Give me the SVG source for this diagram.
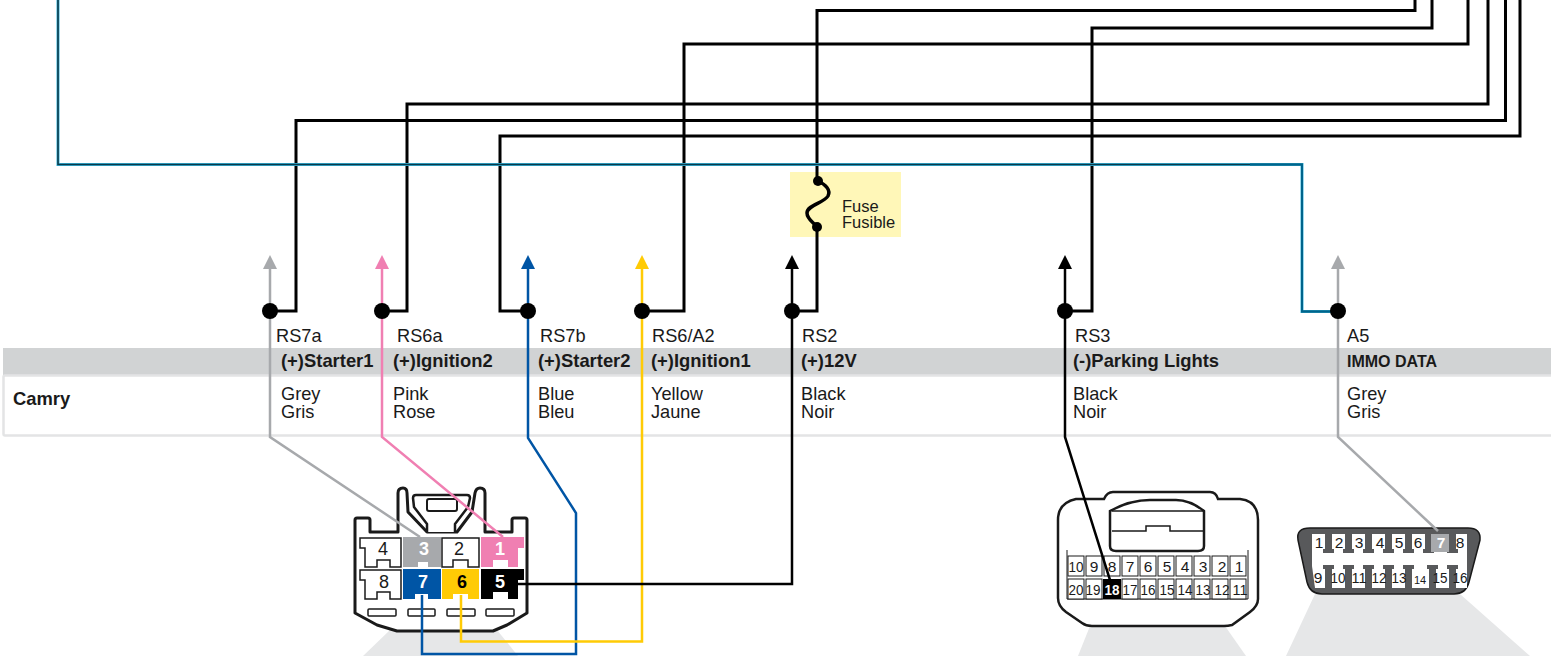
<svg xmlns="http://www.w3.org/2000/svg" width="1551" height="656" viewBox="0 0 1551 656">
<style>
text{font-family:"Liberation Sans",Arial,sans-serif;fill:#1a1a1a}
.l{font-size:18.200px}
.b{font-size:18.400px;font-weight:700}
.f{font-size:16.500px}
.p{font-size:15.500px;text-anchor:middle}
.n{font-size:18px;text-anchor:middle}
.w{fill:#fff;font-weight:700}
.k{fill:none;stroke:#000;stroke-width:3;stroke-linejoin:miter}
.pin{fill:#fff;stroke:#1a1a1a;stroke-width:1.500}
.cell{fill:#fff;stroke:#1a1a1a;stroke-width:1}
.t{fill:#58595b}
</style>
<g id="shades">
<path d="M363 656L390 630H497L518 656Z" fill="#e6e7e8"/>
<path d="M1078 656L1090 626H1225L1246 656Z" fill="#e6e7e8"/>
<path d="M1286 656L1315 594H1460L1530 656Z" fill="#e6e7e8"/>
</g>
<g id="table">
<rect x="3" y="348" width="1548" height="27" fill="#d1d3d4"/>
<path d="M1551 375.500H5Q3.500 375.500 3.500 377V434Q3.500 435.500 5 435.500H1551" fill="#fff" stroke="#e3e4e5" stroke-width="2.500"/>
<text x="13" y="405" class="b">Camry</text>
</g>
<g id="fuse">
<rect x="790" y="172" width="111" height="65" fill="#fff7b8"/>
<path d="M818 181C826 185 831 190 828 196C824 203 807 205 807 213C807 219 813 222 817 227" fill="none" stroke="#000" stroke-width="3.500"/>
<circle cx="818" cy="181" r="5" fill="#000"/>
<circle cx="817" cy="227" r="5" fill="#000"/>
<text x="842" y="212" class="f">Fuse</text>
<text x="842" y="228" class="f">Fusible</text>
</g>
<g id="col-rs7a"><text x="276" y="342" class="l">RS7a</text><text x="281" y="367" class="b">(+)Starter1</text><text x="281" y="400" class="l">Grey</text><text x="281" y="418" class="l">Gris</text></g>
<g id="col-rs6a"><text x="397" y="342" class="l">RS6a</text><text x="393" y="367" class="b">(+)Ignition2</text><text x="393" y="400" class="l">Pink</text><text x="393" y="418" class="l">Rose</text></g>
<g id="col-rs7b"><text x="540" y="342" class="l">RS7b</text><text x="538" y="367" class="b">(+)Starter2</text><text x="538" y="400" class="l">Blue</text><text x="538" y="418" class="l">Bleu</text></g>
<g id="col-rs6a2"><text x="652" y="342" class="l">RS6/A2</text><text x="651" y="367" class="b">(+)Ignition1</text><text x="651" y="400" class="l">Yellow</text><text x="651" y="418" class="l">Jaune</text></g>
<g id="col-rs2"><text x="802" y="342" class="l">RS2</text><text x="801" y="367" class="b">(+)12V</text><text x="801" y="400" class="l">Black</text><text x="801" y="418" class="l">Noir</text></g>
<g id="col-rs3"><text x="1075" y="342" class="l">RS3</text><text x="1073" y="367" class="b">(-)Parking Lights</text><text x="1073" y="400" class="l">Black</text><text x="1073" y="418" class="l">Noir</text></g>
<g id="col-a5"><text x="1347" y="342" class="l">A5</text><text x="1347" y="367" class="b" style="font-size:16px">IMMO DATA</text><text x="1347" y="400" class="l">Grey</text><text x="1347" y="418" class="l">Gris</text></g>
<g id="connector-8pin">
<path d="M355 520Q355 518 357 518H368Q370 518 370 520V532H398V493Q398 488 403 488Q407 488 407 493L408 512L427 532H457L472 512L475 493Q476 488 480 488Q485 488 485 493V532H512V520Q512 518 514 518H525Q527 518 527 520V613L507 625L493 631H397L377 625L355 613Z" fill="#fff" stroke="#1a1a1a" stroke-width="3" stroke-linejoin="round"/>
<path d="M427 532V524L414 507L413 498Q413 495 416 495H467Q470 495 470 498L468 507L455 524V532" fill="#fff" stroke="#1a1a1a" stroke-width="2.500" stroke-linejoin="round"/>
<rect x="427" y="499" width="30" height="12" rx="2" fill="#fff" stroke="#1a1a1a" stroke-width="2"/>
<path d="M360 538H401V567H390V560H377V567H365V548H360Z" class="pin"/>
<path d="M403 537H441V567H428V562H418V567H403Z" fill="#a7a9ac"/>
<path d="M442 538H479V567H468V560H453V567H442Z" class="pin"/>
<path d="M481 537H524V548H518V567H508V560H493V567H481Z" fill="#f07fb2"/>
<path d="M360 570H401V599H390V592H377V599H365V580H360Z" class="pin"/>
<path d="M403 569H441V599H428V594H415V599H403Z" fill="#0055a5"/>
<path d="M442 569H479V599H468V594H453V599H442Z" fill="#ffcb05"/>
<path d="M481 569H524V580H518V599H508V592H493V599H481Z" fill="#000"/>
<rect x="368" y="609" width="28" height="7" rx="1" class="pin"/>
<rect x="408" y="609" width="27" height="7" rx="1" class="pin"/>
<rect x="447" y="609" width="28" height="7" rx="1" class="pin"/>
<rect x="486" y="609" width="28" height="7" rx="1" class="pin"/>
<text x="383" y="555" class="n">4</text>
<text x="424" y="555" class="n w">3</text>
<text x="459" y="555" class="n">2</text>
<text x="500" y="555" class="n w">1</text>
<text x="384" y="588" class="n">8</text>
<text x="423" y="588" class="n w">7</text>
<text x="462" y="588" class="n" style="font-weight:700;fill:#000">6</text>
<text x="500" y="588" class="n w">5</text>
</g>
<g id="connector-20pin">
<path d="M1104 499Q1107 492 1113 492H1210Q1216 492 1218 499H1240Q1258 501 1258 520V599Q1258 606 1250 612L1232 625Q1228 626 1224 626H1092Q1086 626 1082 623L1066 612Q1058 606 1058 598V520Q1058 503 1076 499Z" fill="#fff" stroke="#1a1a1a" stroke-width="2.500"/>
<path d="M1110 511Q1130 500 1150 500H1176Q1190 500 1204 511V546Q1204 551 1198 551H1116Q1110 551 1110 546Z" fill="#fff" stroke="#1a1a1a" stroke-width="2.500"/>
<path d="M1112 511H1203M1112 531H1146V526H1170V531H1203" fill="none" stroke="#1a1a1a" stroke-width="1.500"/>
<path d="M1067 550V599H1248V550" fill="none" stroke="#1a1a1a" stroke-width="1"/>
<rect x="1068" y="556" width="16" height="20" class="cell"/><rect x="1086" y="556" width="16" height="20" class="cell"/><rect x="1104" y="556" width="16" height="20" class="cell"/><rect x="1122" y="556" width="16" height="20" class="cell"/><rect x="1140" y="556" width="16" height="20" class="cell"/><rect x="1158" y="556" width="16" height="20" class="cell"/><rect x="1176" y="556" width="16" height="20" class="cell"/><rect x="1194" y="556" width="16" height="20" class="cell"/><rect x="1212" y="556" width="16" height="20" class="cell"/><rect x="1230" y="556" width="16" height="20" class="cell"/>
<rect x="1068" y="579" width="16" height="20" class="cell"/><rect x="1086" y="579" width="16" height="20" class="cell"/><rect x="1122" y="579" width="16" height="20" class="cell"/><rect x="1140" y="579" width="16" height="20" class="cell"/><rect x="1158" y="579" width="16" height="20" class="cell"/><rect x="1176" y="579" width="16" height="20" class="cell"/><rect x="1194" y="579" width="16" height="20" class="cell"/><rect x="1212" y="579" width="16" height="20" class="cell"/><rect x="1230" y="579" width="16" height="20" class="cell"/>
<rect x="1103" y="579" width="18" height="20" fill="#000"/>
<text x="1076" y="572" class="p" textLength="15" lengthAdjust="spacingAndGlyphs">10</text><text x="1094" y="572" class="p">9</text><text x="1112" y="572" class="p">8</text><text x="1130" y="572" class="p">7</text><text x="1148" y="572" class="p">6</text><text x="1167" y="572" class="p">5</text><text x="1185" y="572" class="p">4</text><text x="1203" y="572" class="p">3</text><text x="1222" y="572" class="p">2</text><text x="1239" y="572" class="p">1</text>
<text x="1076" y="595" class="p" textLength="15" lengthAdjust="spacingAndGlyphs">20</text><text x="1093" y="595" class="p" textLength="15" lengthAdjust="spacingAndGlyphs">19</text><text x="1112" y="595" class="p w" textLength="15" lengthAdjust="spacingAndGlyphs">18</text><text x="1130" y="595" class="p" textLength="15" lengthAdjust="spacingAndGlyphs">17</text><text x="1148" y="595" class="p" textLength="15" lengthAdjust="spacingAndGlyphs">16</text><text x="1167" y="595" class="p" textLength="15" lengthAdjust="spacingAndGlyphs">15</text><text x="1185" y="595" class="p" textLength="15" lengthAdjust="spacingAndGlyphs">14</text><text x="1203" y="595" class="p" textLength="15" lengthAdjust="spacingAndGlyphs">13</text><text x="1222" y="595" class="p" textLength="15" lengthAdjust="spacingAndGlyphs">12</text><text x="1240" y="595" class="p" textLength="15" lengthAdjust="spacingAndGlyphs">11</text>
</g>
<g id="connector-obd">
<path d="M1310 528H1468Q1481 528 1480 540L1469 582Q1466 594 1454 594H1322Q1310 594 1307 582L1298 540Q1296 528 1310 528Z" fill="#58595b" stroke="#1a1a1a" stroke-width="1.500"/>
<path d="M1312 534H1467V588H1315L1312 566Z" fill="#fff"/>
<path class="t" d="M1325 534H1332V549H1334V553H1323V549H1325ZM1345 534H1352V549H1354V553H1343V549H1345ZM1365 534H1372V549H1374V553H1363V549H1365ZM1385 534H1392V549H1394V553H1383V549H1385ZM1405 534H1412V549H1414V553H1403V549H1405ZM1425 534H1432V549H1434V553H1423V549H1425ZM1449 534H1456V549H1458V553H1447V549H1449Z"/>
<path class="t" d="M1323 565H1334V569H1332V588H1325V569H1323ZM1343 565H1354V569H1352V588H1345V569H1343ZM1363 565H1374V569H1372V588H1365V569H1363ZM1383 565H1394V569H1392V588H1385V569H1383ZM1403 565H1414V569H1412V588H1405V569H1403ZM1427 565H1438V569H1436V588H1429V569H1427ZM1447 565H1458V569H1456V588H1449V569H1447Z"/>
<rect x="1431" y="534" width="18" height="18" fill="#a7a9ac"/>
<text x="1319" y="548" class="p">1</text><text x="1339" y="548" class="p">2</text><text x="1359" y="548" class="p">3</text><text x="1380" y="548" class="p">4</text><text x="1399" y="548" class="p">5</text><text x="1418" y="548" class="p">6</text><text x="1441" y="548" class="p w">7</text><text x="1460" y="548" class="p">8</text>
<text x="1318" y="583" class="p">9</text><text x="1338" y="583" class="p" textLength="15" lengthAdjust="spacingAndGlyphs">10</text><text x="1359" y="583" class="p" textLength="15" lengthAdjust="spacingAndGlyphs">11</text><text x="1379" y="583" class="p" textLength="15" lengthAdjust="spacingAndGlyphs">12</text><text x="1399" y="583" class="p" textLength="15" lengthAdjust="spacingAndGlyphs">13</text><text x="1420" y="584" class="p" style="font-size:11px">14</text><text x="1440" y="583" class="p" textLength="15" lengthAdjust="spacingAndGlyphs">15</text><text x="1460" y="583" class="p" textLength="15" lengthAdjust="spacingAndGlyphs">16</text>
</g>
<g id="connectors">
<path d="M270 311H296V120.500H1505.500V0" class="k"/>
<path d="M382 311H407V104H1488V0" class="k"/>
<path d="M528 311H500V136H1520V0" class="k"/>
<path d="M642 311H684V44H1468V0" class="k"/>
<path d="M792 311H817V227M817 181V10.500H1415V0" class="k"/>
<path d="M1065 311H1092V28H1432V0" class="k"/>
<path d="M58 0V164.500H1302V311.500H1338" fill="none" stroke="#38b6dc" stroke-width="3"/>
<path d="M58 0V164.500H1302V311.500H1338" fill="none" stroke="#0b3a4a" stroke-width="1.600"/>
<path d="M1250 164.500H1302V311.500H1338" fill="none" stroke="#00648c" stroke-width="2"/>
<path d="M270 268V437L420 537" fill="none" stroke="#a7a9ac" stroke-width="2.500"/>
<path d="M382 268V437L503 537" fill="none" stroke="#f07fb2" stroke-width="2.500"/>
<path d="M528 268V438L576 513V654H422V595" fill="none" stroke="#0055a5" stroke-width="2.500"/>
<path d="M642 268V641.500H461V595" fill="none" stroke="#ffcb05" stroke-width="2.500"/>
<path d="M792 268V584H518" fill="none" stroke="#000" stroke-width="2.500"/>
<path d="M1065 268V437L1110 580" fill="none" stroke="#000" stroke-width="2.500"/>
<path d="M1338 268V437L1438 531" fill="none" stroke="#a7a9ac" stroke-width="2.500"/>
<path d="M270 255l7 14h-14z" fill="#a7a9ac"/>
<path d="M382 255l7 14h-14z" fill="#f07fb2"/>
<path d="M528 255l7 14h-14z" fill="#0055a5"/>
<path d="M642 255l7 14h-14z" fill="#ffcb05"/>
<path d="M792 255l7 14h-14z" fill="#000"/>
<path d="M1065 255l7 14h-14z" fill="#000"/>
<path d="M1338 255l7 14h-14z" fill="#a7a9ac"/>
<circle cx="270" cy="311" r="8" fill="#000"/>
<circle cx="382" cy="311" r="8" fill="#000"/>
<circle cx="528" cy="311" r="8" fill="#000"/>
<circle cx="642" cy="311" r="8" fill="#000"/>
<circle cx="792" cy="311" r="8" fill="#000"/>
<circle cx="1065" cy="311" r="8" fill="#000"/>
<circle cx="1338" cy="311" r="8" fill="#000"/>
</g>
</svg>
